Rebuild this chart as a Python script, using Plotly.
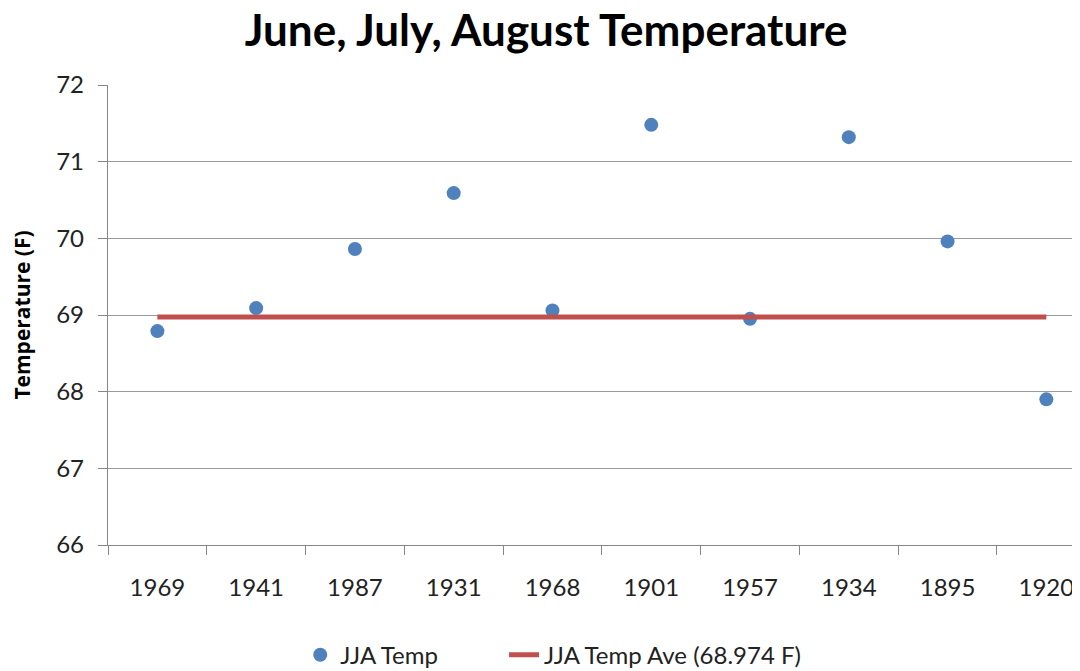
import plotly.graph_objects as go

years = ["1969", "1941", "1987", "1931", "1968", "1901", "1957", "1934", "1895", "1920"]
jja_temp = [68.79, 69.09, 69.86, 70.59, 69.06, 71.48, 68.95, 71.32, 69.96, 67.90]
jja_ave = 68.974
ave_x = [years[0], years[-1]]
ave_y = [jja_ave, jja_ave]

fig = go.Figure()
fig.add_trace(go.Scatter(
    x=years, y=jja_temp, mode="markers", name="JJA Temp",
    marker=dict(color="#4F81BD", size=14), legend="legend",
))
fig.add_trace(go.Scatter(
    x=ave_x, y=ave_y, mode="lines", name="JJA Temp Ave (68.974 F)",
    line=dict(color="#C0504D", width=5), legend="legend2",
))

# The page body adds an 8px margin, so the figure is 8px smaller than the window.
fig.update_layout(
    width=1072, height=663,
    paper_bgcolor="white", plot_bgcolor="white",
    margin=dict(l=100, r=6, t=77, b=126),
    font=dict(family="Lato, 'Open Sans', sans-serif", color="#222222", size=24),
    title=dict(text="<b>June, July, August Temperature</b>", x=0.502, xanchor="center",
               yref="container", y=0.966, yanchor="middle",
               font=dict(size=44, color="black", family="Lato, sans-serif")),
    showlegend=True,
    legend=dict(orientation="h", x=0.199, xanchor="left",
                yref="container", y=0.024, yanchor="middle",
                font=dict(size=24, color="#222222"), bgcolor="rgba(0,0,0,0)"),
    legend2=dict(orientation="h", x=0.41, xanchor="left",
                 yref="container", y=0.024, yanchor="middle",
                 font=dict(size=24, color="#222222"), bgcolor="rgba(0,0,0,0)"),
    xaxis=dict(
        type="category", range=[-0.5, 9.28], showgrid=False, automargin=False,
        showline=True, linecolor="#868686", linewidth=1.3,
        ticks="outside", tickson="boundaries", ticklen=9, tickcolor="#868686",
        tickfont=dict(size=24, color="#222222"), ticklabelstandoff=21,
    ),
    yaxis=dict(
        range=[66, 72], dtick=1, showgrid=True, gridcolor="#9a9a9a", gridwidth=1.3,
        showline=True, linecolor="#868686", linewidth=1.3, automargin=False,
        ticks="outside", ticklen=9, tickcolor="#868686",
        tickfont=dict(size=24, color="#222222"), zeroline=False, ticklabelstandoff=9,
        title=dict(text="<b>Temperature (F)</b>",
                   font=dict(size=21, color="black", family="'Open Sans', sans-serif"),
                   standoff=32),
    ),
)

fig.write_html("out.html")
